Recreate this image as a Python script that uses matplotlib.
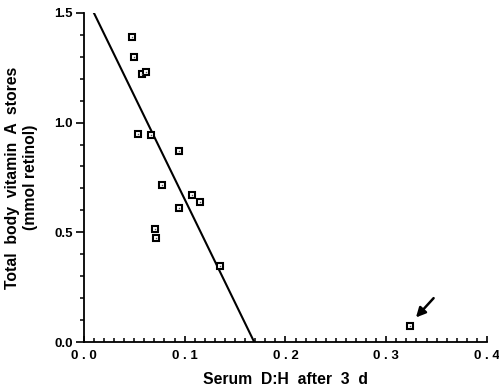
import matplotlib
matplotlib.use("Agg")
import matplotlib.pyplot as plt
import numpy as np

# Data
dh_ratio = [0.048, 0.050, 0.058, 0.062, 0.054, 0.067, 0.094, 0.078, 0.107,
            0.115, 0.094, 0.071, 0.072, 0.135, 0.324]
vit_a = [1.39, 1.30, 1.22, 1.23, 0.95, 0.945, 0.87, 0.717, 0.67,
         0.637, 0.61, 0.515, 0.473, 0.345, 0.074]
line_x = [0.010, 0.169]
line_intercept = 1.594
line_slope = -9.43
xticks = [0.0, 0.1, 0.2, 0.3, 0.4]
xticklabels = ["0 . 0", "0 . 1", "0 . 2", "0 . 3", "0 . 4"]
yticks = [0.0, 0.5, 1.0, 1.5]
yticklabels = ["0.0", "0.5", "1.0", "1.5"]

plt.rcParams['font.family'] = ['Liberation Sans', 'DejaVu Sans']

fig = plt.figure(figsize=(4.99, 3.9), dpi=100)
ax = fig.add_axes([0.168, 0.123, 0.808, 0.844])

lx = np.array(line_x)
ax.plot(lx, line_intercept + line_slope * lx, color='black', lw=1.5)
ax.plot(dh_ratio, vit_a, linestyle='none', marker='s', markersize=4.3,
        markerfacecolor='white', markeredgecolor='black', markeredgewidth=1.5)
ax.plot(dh_ratio, vit_a, linestyle='none', marker='s', markersize=1.0,
        markerfacecolor='#555555', markeredgecolor='none')

ax.annotate('', xy=(0.3295, 0.112), xytext=(0.347, 0.2),
            arrowprops=dict(arrowstyle='-|>', color='black', lw=1.8,
                            mutation_scale=14, shrinkA=0, shrinkB=0))

ax.set_xlim(0, 0.4)
ax.set_ylim(0, 1.5)
ax.spines['top'].set_visible(False)
ax.spines['right'].set_visible(False)
ax.spines['left'].set_linewidth(1.3)
ax.spines['bottom'].set_linewidth(1.3)

ax.set_xticks(xticks)
ax.set_xticklabels(xticklabels, fontweight='bold', fontsize=9.5)
ax.set_xticks(np.arange(0, 0.4001, 0.01), minor=True)
ax.set_yticks(yticks)
ax.set_yticklabels(yticklabels, fontweight='bold', fontsize=9.5)
ax.set_yticks(np.arange(0, 1.5001, 0.1), minor=True)
ax.tick_params(axis='x', which='major', direction='in', length=4, width=1.2, pad=6)
ax.tick_params(axis='x', which='minor', direction='in', length=3, width=1.1)
ax.tick_params(axis='y', which='major', direction='out', length=6, width=1.2, pad=2)
ax.tick_params(axis='y', which='minor', direction='out', length=3, width=1.1)

ax.set_xlabel('Serum  D:H  after  3  d', fontweight='bold', fontsize=11.3, labelpad=7)
ax.set_ylabel('Total  body  vitamin  A  stores\n(mmol retinol)', fontweight='bold',
              fontsize=11.3, labelpad=12, linespacing=1.2)

fig.savefig('out.png', dpi=100)
